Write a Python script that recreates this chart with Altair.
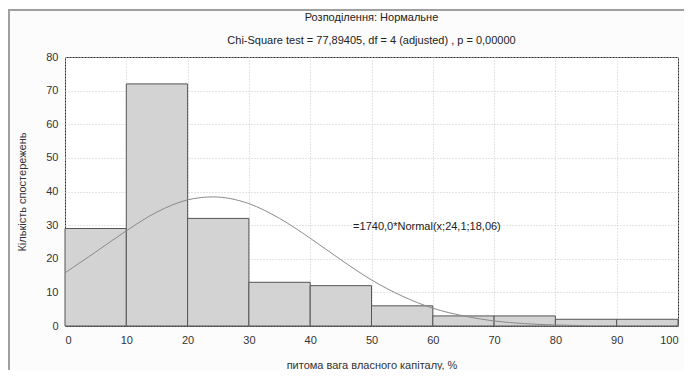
import altair as alt
import pandas as pd

# Histogram bins (lower edge, upper edge, count)
bin_lo = [0, 10, 20, 30, 40, 50, 60, 70, 80, 90]
bin_hi = [10, 20, 30, 40, 50, 60, 70, 80, 90, 100]
counts = [29, 72, 32, 13, 12, 6, 3, 3, 2, 2]

# Fitted normal curve
curve_x = [0, 5, 10, 15, 20, 24.1, 30, 35, 40, 45, 50, 55, 60, 65, 70, 75, 80, 85]
curve_y = [15.8, 22.0, 28.3, 33.9, 37.5, 38.4, 36.4, 32.0, 26.1, 19.7, 13.7, 8.9, 5.3, 3.0, 1.5, 0.7, 0.3, 0.1]

title_text = "Розподілення: Нормальне"
subtitle_text = "Chi-Square test = 77,89405, df = 4 (adjusted) , p = 0,00000"
x_title = "питома вага власного капіталу, %"
y_title = "Кількість спостережень"
annot_text = ["=1740,0*Normal(x;24,1;18,06)"]
annot_x = [47]
annot_y = [29.5]

x_ticks = list(range(0, 101, 10))
y_ticks = list(range(0, 81, 10))

FONT = "Liberation Sans"

bins_df = pd.DataFrame({"lo": bin_lo, "hi": bin_hi, "n": counts})
curve_df = pd.DataFrame({"x": curve_x, "y": curve_y})
annot_df = pd.DataFrame({"x": annot_x, "y": annot_y, "t": annot_text})

xscale = alt.Scale(domain=[0, 100], nice=False, zero=False)
yscale = alt.Scale(domain=[0, 80], nice=False)

xaxis = alt.Axis(values=x_ticks, title=x_title, grid=True, gridDash=[1, 2],
                 gridColor="#c8c8c8", ticks=False, tickSize=0, domain=False,
                 labelFont=FONT, labelFontSize=11, labelColor="#333333",
                 labelPadding=8, titleFont=FONT, titleFontSize=11,
                 titleFontWeight="normal", titleColor="#333333", titlePadding=14)
yaxis = alt.Axis(values=y_ticks, title=y_title, grid=True, gridDash=[1, 2],
                 gridColor="#c8c8c8", ticks=False, tickSize=0, domain=False,
                 labelFont=FONT, labelFontSize=11, labelColor="#333333",
                 labelPadding=7, labelOverlap=False, titleFont=FONT, titleFontSize=11,
                 titleFontWeight="normal", titleColor="#333333", titlePadding=18)

bars = alt.Chart(bins_df).mark_rect(fill="#d3d3d3", stroke="#555555", strokeWidth=1).encode(
    x=alt.X("lo:Q", scale=xscale, axis=xaxis),
    x2="hi:Q",
    y=alt.Y("n:Q", scale=yscale, axis=yaxis),
    y2=alt.datum(0),
)

line = alt.Chart(curve_df).mark_line(color="#8a8a8a", strokeWidth=1, interpolate="monotone").encode(
    x=alt.X("x:Q", scale=xscale, axis=xaxis),
    y=alt.Y("y:Q", scale=yscale, axis=yaxis),
)

annot = alt.Chart(annot_df).mark_text(align="left", baseline="middle", font=FONT,
                                      fontSize=11, color="#222222").encode(
    x=alt.X("x:Q", scale=xscale, axis=xaxis),
    y=alt.Y("y:Q", scale=yscale, axis=yaxis),
    text="t:N",
)

# outer frame of the picture (left and top edges)
frame_left = alt.Chart(annot_df).mark_rule(color="#a0a0a0", strokeWidth=2).encode(
    x=alt.value(-56), y=alt.value(-48), y2=alt.value(313)
)
frame_top = alt.Chart(annot_df).mark_rule(color="#a0a0a0", strokeWidth=2).encode(
    x=alt.value(-57), x2=alt.value(619), y=alt.value(-47)
)

chart = alt.layer(bars, line, annot, frame_left, frame_top).properties(
    width=613, height=269,
    title=alt.TitleParams(text=title_text, subtitle=subtitle_text, font=FONT,
                          fontSize=11, fontWeight="normal", color="#222222",
                          subtitleFont=FONT, subtitleFontSize=11, subtitleColor="#222222",
                          anchor="middle", offset=-38, subtitlePadding=12),
    autosize=alt.AutoSizeParams(type="none"),
    padding={"left": 57, "top": 49, "right": 6, "bottom": 44},
    background="#fcfcfc",
).configure_view(stroke="#333333", strokeWidth=1, fill="white")

chart.save("out.html", embed_options={"renderer": "svg", "actions": False})
